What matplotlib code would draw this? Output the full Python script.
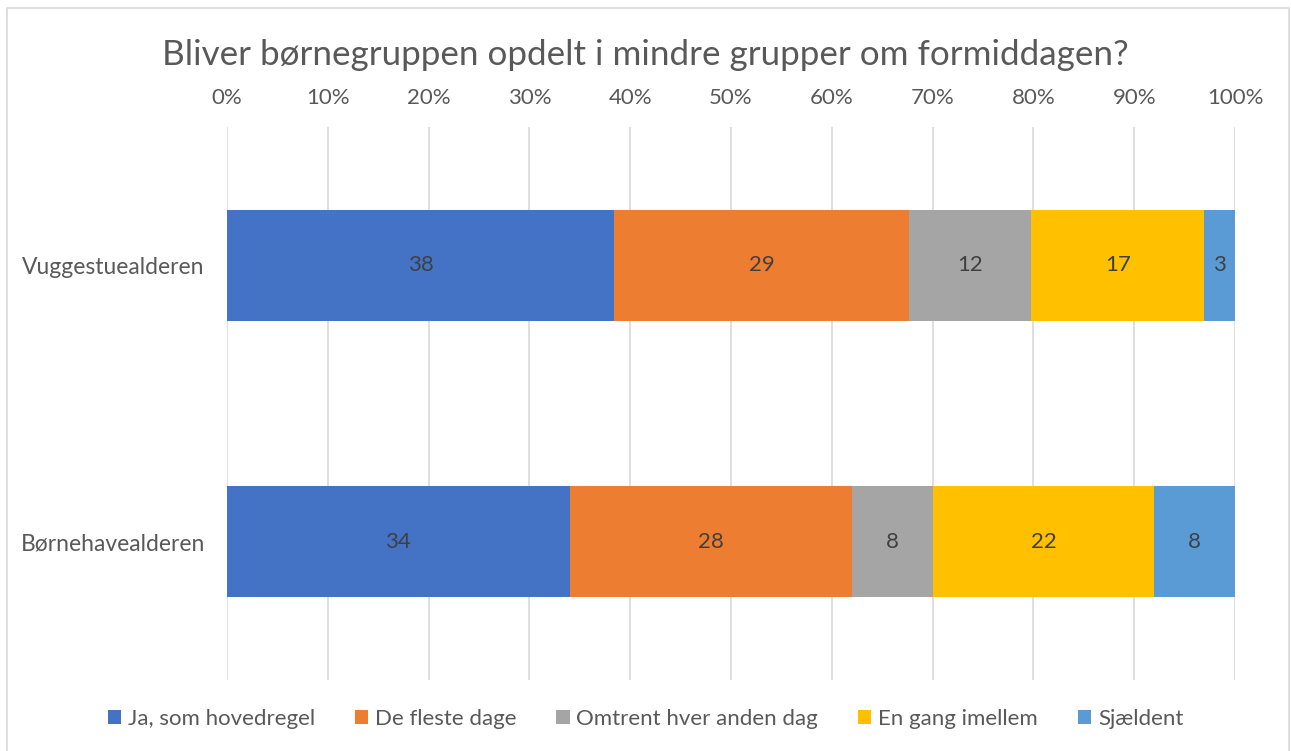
import numpy as np
import matplotlib.pyplot as plt
from matplotlib.patches import Rectangle

plt.rcParams['font.family'] = ['Lato', 'DejaVu Sans']

categories = ['Børnehavealderen', 'Vuggestuealderen']
series = ['Ja, som hovedregel', 'De fleste dage', 'Omtrent hver anden dag',
          'En gang imellem', 'Sjældent']
values = {
    'Ja, som hovedregel': [34, 38],
    'De fleste dage': [28, 29],
    'Omtrent hver anden dag': [8, 12],
    'En gang imellem': [22, 17],
    'Sjældent': [8, 3],
}
colors = ['#4472C4', '#ED7D31', '#A5A5A5', '#FFC000', '#5B9BD5']
ticks = [0, 10, 20, 30, 40, 50, 60, 70, 80, 90, 100]
title = 'Bliver børnegruppen opdelt i mindre grupper om formiddagen?'

txt = '#595959'

fig = plt.figure(figsize=(12.91, 7.51), dpi=100)
fig.patches.append(Rectangle((7 / 1291, -0.01), 1282 / 1291, 1 - 8 / 751 + 0.01,
                             transform=fig.transFigure, fill=False,
                             edgecolor='#D9D9D9', linewidth=1.2))
ax = fig.add_axes([227 / 1291, 1 - 680 / 751, 1008 / 1291, 553 / 751])

data = np.array([values[s] for s in series], dtype=float)
totals = data.sum(axis=0)
pct = data / totals * 100
y = np.arange(len(categories))
left = np.zeros(len(categories))
for i, s in enumerate(series):
    ax.barh(y, pct[i], left=left, height=0.4, color=colors[i], label=s, zorder=3)
    for j in range(len(categories)):
        ax.text(left[j] + pct[i][j] / 2, y[j], '%d' % data[i][j], ha='center',
                va='center', fontsize=16, color='#404040', zorder=4)
    left += pct[i]

ax.set_xlim(0, 100)
ax.set_ylim(-0.5, 1.5)
ax.set_xticks(ticks)
ax.set_xticklabels(['%d%%' % t for t in ticks], fontsize=16, color=txt)
ax.xaxis.tick_top()
ax.tick_params(axis='x', length=0, pad=14)
ax.set_yticks(y)
ax.set_yticklabels(categories, fontsize=16.5, color=txt)
ax.tick_params(axis='y', length=0, pad=16)
ax.grid(axis='x', color='#D9D9D9', linewidth=1.2, zorder=0)
for sp in ax.spines.values():
    sp.set_visible(False)

fig.text(0.5, 1 - 55 / 751, title, ha='center', va='center', fontsize=25.2, color=txt)

fig.legend(loc='center', bbox_to_anchor=(0.5, 1 - 719 / 751), ncol=5, frameon=False,
           fontsize=16, labelcolor=txt, handlelength=0.6, handleheight=0.6,
           handletextpad=0.3, columnspacing=1.8)

fig.savefig('out.png', dpi=100)
